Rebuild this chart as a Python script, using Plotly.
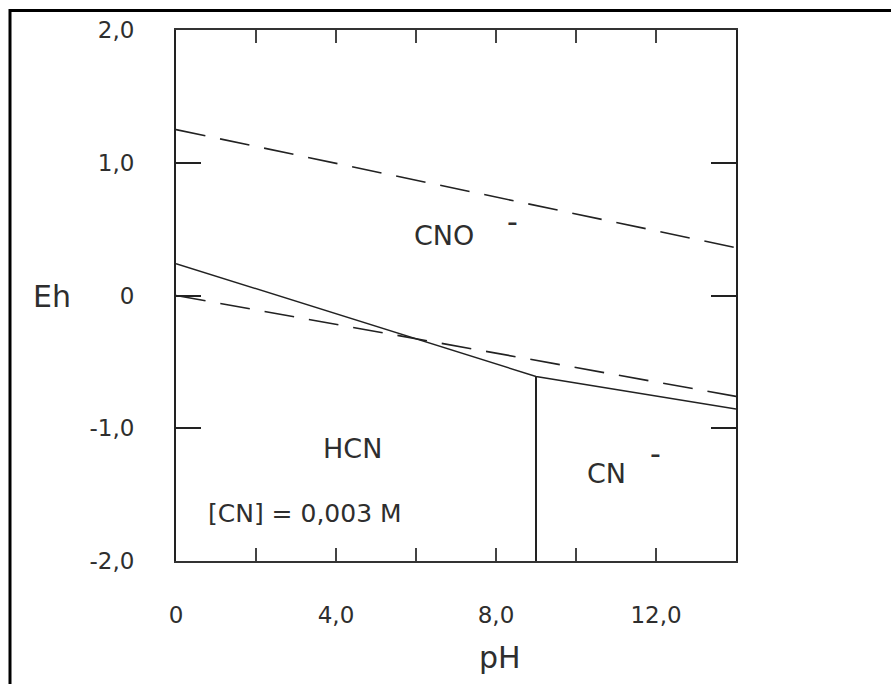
import plotly.graph_objects as go

# ---- data ----
ph_o2 = [0, 14]
eh_o2 = [1.25, 0.36]           # upper dashed line
ph_h2 = [0, 14]
eh_h2 = [0.0, -0.76]           # lower dashed line
ph_cno = [0, 9.0, 14]
eh_cno = [0.24, -0.61, -0.855]  # solid CNO- boundary
ph_vert = [9.0, 9.0]
eh_vert = [-0.61, -2.0]        # HCN / CN- boundary

x_tickvals = [0, 2, 4, 6, 8, 10, 12, 14]
x_ticktext = ["0", "", "4,0", "", "8,0", "", "12,0", ""]
y_tickvals = [-2, -1, 0, 1, 2]
y_ticktext = ["-2,0", "-1,0", "0", "1,0", "2,0"]

region_labels = ["CNO", "HCN", "CN", "[CN] = 0,003 M"]
region_x = [6.7, 4.4, 10.75, 3.22]
region_y = [0.45, -1.15, -1.34, -1.64]
region_size = [27, 27, 27, 25]
charge_x = [8.4, 11.98]
charge_y = [0.56, -1.19]

INK = "#222222"
TXT = "#2e2e2e"
FONT = "DejaVu Sans"

fig = go.Figure()
dash = "30px,15px"
fig.add_trace(go.Scatter(x=ph_o2, y=eh_o2, mode="lines",
                         line=dict(color=INK, width=1.6, dash=dash), hoverinfo="skip"))
fig.add_trace(go.Scatter(x=ph_h2, y=eh_h2, mode="lines",
                         line=dict(color=INK, width=1.6, dash=dash), hoverinfo="skip"))
fig.add_trace(go.Scatter(x=ph_cno, y=eh_cno, mode="lines",
                         line=dict(color=INK, width=1.5), hoverinfo="skip"))
fig.add_trace(go.Scatter(x=ph_vert, y=eh_vert, mode="lines",
                         line=dict(color=INK, width=2), hoverinfo="skip"))

for t, x, y, s in zip(region_labels, region_x, region_y, region_size):
    fig.add_annotation(x=x, y=y, text=t, showarrow=False, xref="x", yref="y",
                       xanchor="center", yanchor="middle",
                       font=dict(family=FONT, size=s, color=TXT))
for x, y in zip(charge_x, charge_y):
    fig.add_annotation(x=x, y=y, text="-", showarrow=False, xref="x", yref="y",
                       xanchor="center", yanchor="middle",
                       font=dict(family=FONT, size=30, color=TXT))

# axis titles
fig.add_annotation(x=(52 - 176) / 560, y=(561 - 296) / 531, xref="paper", yref="paper",
                   text="Eh", showarrow=False, xanchor="center", yanchor="middle",
                   font=dict(family=FONT, size=30, color=TXT))
fig.add_annotation(x=(500 - 176) / 560, y=(561 - 657) / 531, xref="paper", yref="paper",
                   text="pH", showarrow=False, xanchor="center", yanchor="middle",
                   font=dict(family=FONT, size=30, color=TXT))

# outer frame of the picture
fig.add_shape(type="rect", xref="paper", yref="paper",
              x0=(10 - 176) / 560, x1=(900 - 176) / 560,
              y0=(561 - 700) / 531, y1=(561 - 10.5) / 531,
              line=dict(color="black", width=3), layer="above")

fig.update_xaxes(range=[0, 14], tickvals=x_tickvals, ticktext=x_ticktext,
                 ticks="inside", ticklen=13, tickwidth=2, tickcolor="#444",
                 showline=True, linecolor="#333", linewidth=2, mirror="allticks",
                 showgrid=False, zeroline=False, ticklabelstandoff=32,
                 tickfont=dict(family=FONT, size=23, color=TXT))
fig.update_yaxes(range=[-2, 2], tickvals=y_tickvals, ticktext=y_ticktext,
                 ticks="inside", ticklen=25, tickwidth=2, tickcolor="#222",
                 showline=True, linecolor="#222", linewidth=2, mirror="allticks",
                 showgrid=False, zeroline=False, ticklabelstandoff=35,
                 tickfont=dict(family=FONT, size=23, color=TXT))

fig.update_layout(width=891, height=684, showlegend=False,
                  margin=dict(l=176, r=155, t=30, b=123),
                  paper_bgcolor="white", plot_bgcolor="white")

fig.write_html("out.html")
